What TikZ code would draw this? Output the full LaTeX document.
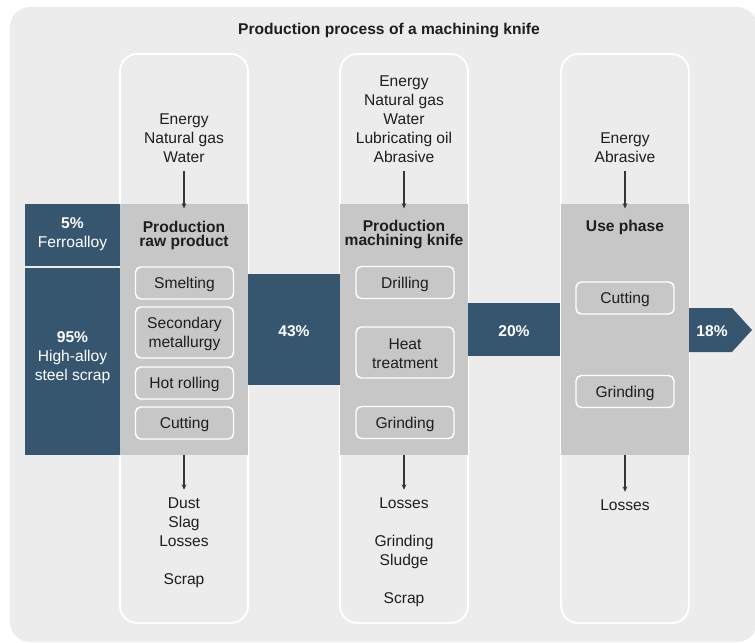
\documentclass[tikz,border=0pt]{standalone}
\usepackage{fontspec}
\setmainfont{Liberation Sans}
\usetikzlibrary{arrows.meta}
\definecolor{bgc}{HTML}{ECECEC}
\definecolor{bandc}{HTML}{C7C7C7}
\definecolor{flowblue}{HTML}{36566F}
\definecolor{ink}{HTML}{1E1E1E}
\begin{document}
\begin{tikzpicture}[x=0.75pt,y=-0.75pt,
  every node/.style={font=\fontsize{11.7}{14.25}\selectfont, text=ink, inner sep=0pt, align=center},
  lane/.style={draw=white, line width=1.4pt, fill=bgc, rounded corners=13pt},
  bandbox/.style={fill=bandc, minimum width=96pt, minimum height=188.25pt},
  stepbox/.style={draw=white, line width=1.1pt, fill=bandc, rounded corners=4pt,
    minimum width=73.5pt, minimum height=24pt, text height=9pt, text depth=0.6pt},
  tallstep/.style={draw=white, line width=1.1pt, fill=bandc, rounded corners=4pt,
    minimum width=73.5pt, minimum height=38.25pt},
  flowbox/.style={fill=flowblue, minimum width=69pt},
  flowtext/.style={text=white, font=\bfseries\fontsize{11.7}{14.25}\selectfont},
  heading/.style={font=\bfseries\fontsize{11.7}{10.5}\selectfont},
  flowarrow/.style={draw=ink!90, line width=0.8pt, -{Stealth[length=4pt,width=3.6pt]}}
]
\useasboundingbox (0,0) rectangle (755,642);

% panel background
\fill[bgc, rounded corners=15pt] (10,7) rectangle (757,642);
\node[font=\bfseries\fontsize{11.7}{14.25}\selectfont] (title) at (389,31) {Production process of a machining knife};

% three lanes
\draw[lane] (120,54) rectangle (248,623);
\draw[lane] (340,54) rectangle (468,623);
\draw[lane] (561,54) rectangle (689,623);

% process bands
\node[bandbox] (band1) at (184,329.5) {};
\node[bandbox] (band2) at (404,329.5) {};
\node[bandbox] (band3) at (625,329.5) {};

% incoming material
\node[fill=flowblue, minimum width=71.25pt, minimum height=46.5pt] (ferro) at (72.5,235) {};
\node[fill=flowblue, minimum width=71.25pt, minimum height=140.25pt] (scrapin) at (72.5,361.5) {};
\node[text=white] (ferrotext) at (72.5,234) {\textbf{5\%}\\Ferroalloy};
\node[text=white] (scraptext) at (72.5,357.5) {\textbf{95\%}\\High-alloy\\steel scrap};

% mass flows between stages
\node[flowbox, minimum height=83.25pt] (f43) at (294,329.5) {};
\node[flowtext] at ([yshift=-1.5pt]f43.center) {43\%};
\node[flowbox, minimum height=39.75pt] (f20) at (514,329.5) {};
\node[flowtext] at ([yshift=-1.5pt]f20.center) {20\%};
\fill[flowblue] (689,308) -- (732,308) -- (752,330) -- (732,352) -- (689,352) -- cycle;
\node[flowtext] (f18) at (712,331.5) {18\%};

% stage headings
\node[heading] (h1) at (184,235) {Production\\raw product};
\node[heading] (h2) at (404,234) {Production\\machining knife};
\node[heading] (h3) at (625,227) {Use phase};

% process steps
\node[stepbox] (s11) at (184.5,283) {Smelting};
\node[tallstep] (s12) at (184.5,332.5) {};
\node (s12text) at ([yshift=-1.2pt]s12.center) {Secondary\\metallurgy};
\node[stepbox] (s13) at (184.5,383) {Hot rolling};
\node[stepbox] (s14) at (184.5,423) {Cutting};

\node[stepbox] (s21) at (405,282.5) {Drilling};
\node[tallstep] (s22) at (405,352.5) {};
\node (s22text) at ([yshift=-1.2pt]s22.center) {Heat\\treatment};
\node[stepbox] (s23) at (405,422.5) {Grinding};

\node[stepbox] (s31) at (625,298) {Cutting};
\node[stepbox] (s32) at (625,391.5) {Grinding};

% inputs
\node (in1) at (184,138) {Energy\\Natural gas\\Water};
\node (in2) at (404,119) {Energy\\Natural gas\\Water\\Lubricating oil\\Abrasive};
\node (in3) at (625,148) {Energy\\Abrasive};

% outputs
\node (out1) at (184,543) {Dust\\Slag\\Losses\\[14.25pt]Scrap};
\node (out2) at (404,552.5) {Losses\\[14.25pt]Grinding\\Sludge\\[14.25pt]Scrap};
\node (out3) at (625,505.5) {Losses};

% input and output arrows
\foreach \i in {1,2,3} {
  \draw[flowarrow, shorten <=6pt, shorten >=-3.5pt] (in\i.south) -- (in\i.south |- band\i.north);
  \draw[flowarrow, shorten >=6pt] (band\i.south -| out\i.north) -- (out\i.north);
}
\end{tikzpicture}
\end{document}
